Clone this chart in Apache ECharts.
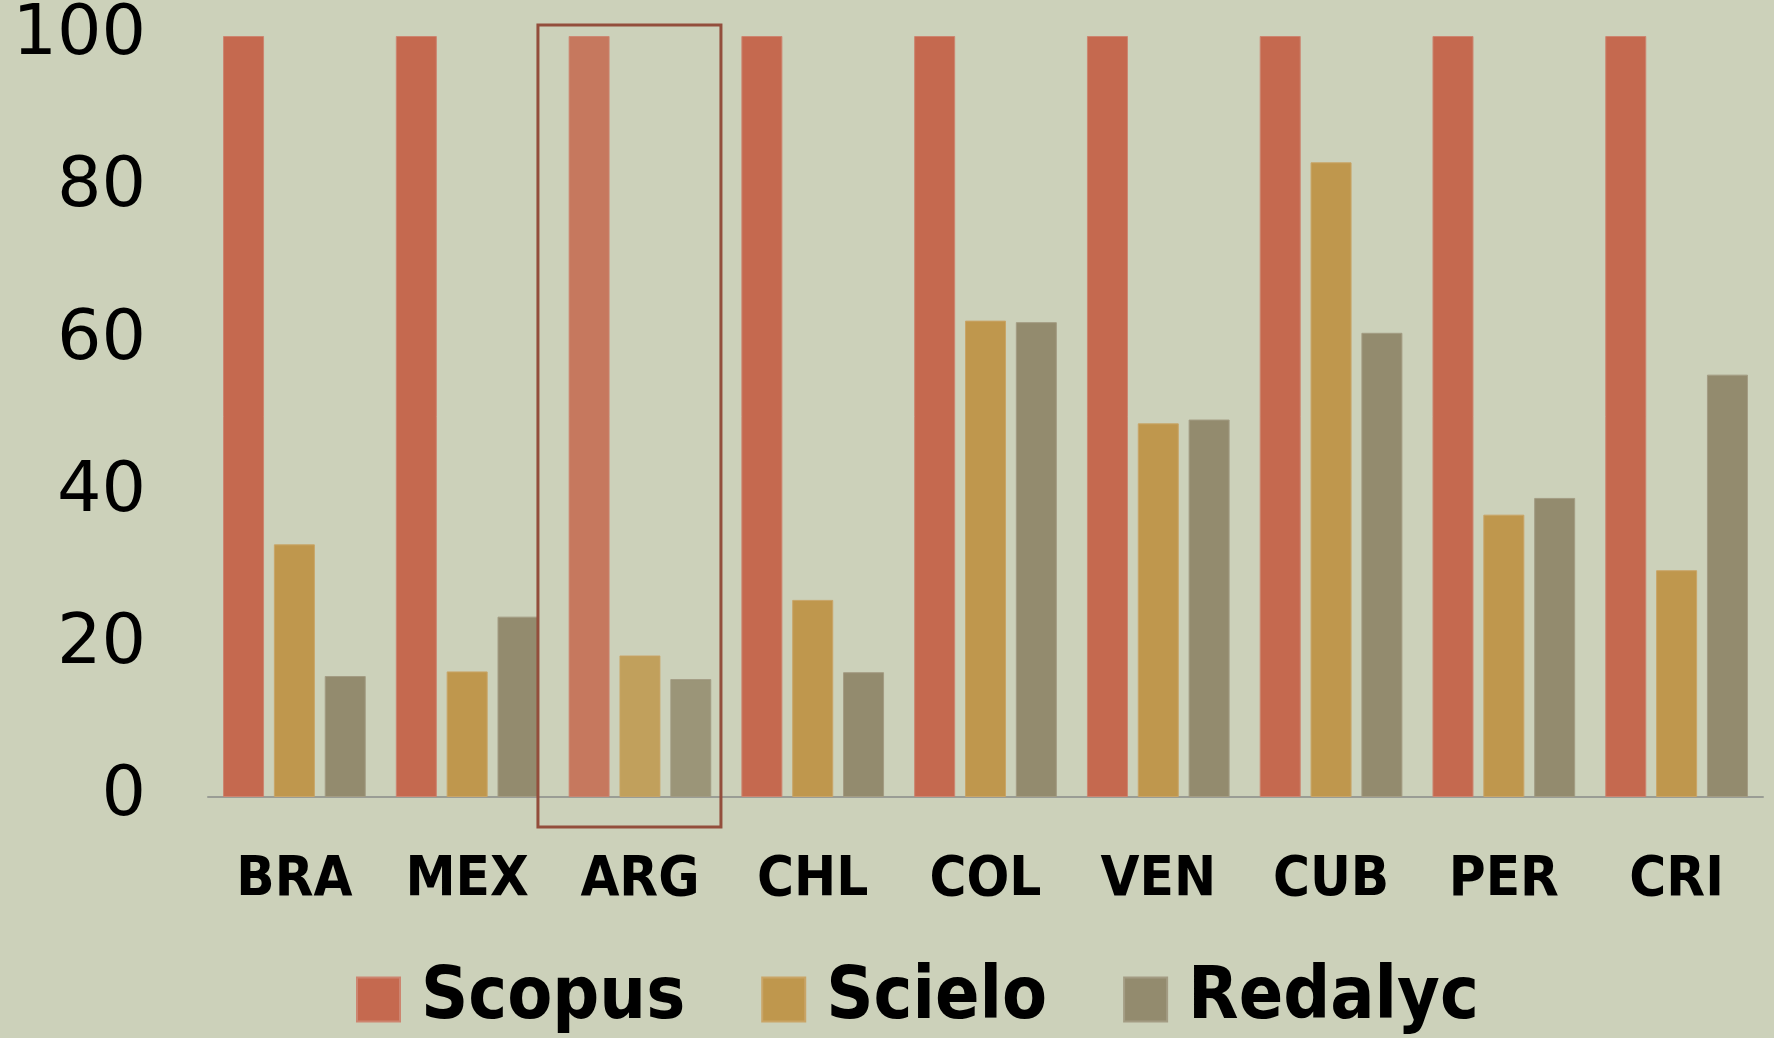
<!DOCTYPE html>
<html>
<head>
<meta charset="utf-8">
<script src="https://cdn.jsdelivr.net/npm/echarts@6/dist/echarts.min.js"></script>
<style>
  html, body { margin: 0; padding: 0; background: #CCD1BA; }
  #chart { width: 1774px; height: 1038px; }
</style>
</head>
<body>
<div id="chart"></div>
<script>
// data
var countries = ['BRA', 'MEX', 'ARG', 'CHL', 'COL', 'VEN', 'CUB', 'PER', 'CRI'];
var scopus = [100, 100, 100, 100, 100, 100, 100, 100, 100];
var scielo = [33.2, 16.5, 18.6, 25.9, 62.6, 49.1, 83.4, 37.1, 29.8];
var redalyc = [15.9, 23.7, 15.5, 16.4, 62.4, 49.6, 61.0, 39.3, 55.5];
var yTicks = [0, 20, 40, 60, 80, 100];
var highlighted = 'ARG';

var narrow = "'DejaVu Sans Condensed', 'Liberation Sans Narrow', sans-serif";

var chart = echarts.init(document.getElementById('chart'));

// highlighted category is drawn a bit washed out
function withHighlight(values) {
  return values.map(function (v, i) {
    if (countries[i] === highlighted) {
      return { value: v, itemStyle: { opacity: 0.86 } };
    }
    return v;
  });
}

function barSeries(name, values, color, border) {
  return {
    name: name,
    type: 'bar',
    data: withHighlight(values),
    barWidth: 41,
    barGap: '24%',
    itemStyle: { color: color, borderColor: border, borderWidth: 1 },
    emphasis: { disabled: true }
  };
}

chart.setOption({
  backgroundColor: '#CCD1BA',
  animation: false,
  grid: { left: 208, right: 11, top: 36, bottom: 241, containLabel: false },
  legend: {
    left: 356,
    top: 963,
    padding: 0,
    icon: 'rect',
    itemWidth: 43,
    itemHeight: 44,
    itemGap: 76,
    textStyle: {
      fontFamily: narrow,
      fontWeight: 'bold',
      fontSize: 73,
      color: '#000',
      padding: [0, 0, 0, 16]
    },
    data: ['Scopus', 'Scielo', 'Redalyc']
  },
  xAxis: {
    type: 'category',
    data: countries,
    axisLine: { lineStyle: { color: '#9A9D95', width: 2 } },
    axisTick: { show: false },
    axisLabel: {
      interval: 0,
      margin: 55,
      fontFamily: narrow,
      fontWeight: 'bold',
      fontSize: 56,
      color: '#000'
    }
  },
  yAxis: {
    type: 'value',
    min: yTicks[0],
    max: yTicks[yTicks.length - 1],
    interval: yTicks[1] - yTicks[0],
    splitLine: { show: false },
    axisLine: { show: false },
    axisTick: { show: false },
    axisLabel: {
      margin: 62,
      fontFamily: 'DejaVu Sans',
      fontSize: 70,
      color: '#000'
    }
  },
  series: [
    barSeries('Scopus', scopus, '#C5694F', '#CD8570'),
    barSeries('Scielo', scielo, '#BF974D', '#C9A567'),
    barSeries('Redalyc', redalyc, '#938B6E', '#A39C83')
  ]
});

// outline box around the highlighted country
var cx = chart.convertToPixel({ xAxisIndex: 0 }, highlighted);
var yTop = chart.convertToPixel({ yAxisIndex: 0 }, 100);
var yBase = chart.convertToPixel({ yAxisIndex: 0 }, 0);
chart.setOption({
  graphic: [{
    type: 'rect',
    shape: { x: cx - 102, y: yTop - 11, width: 183, height: yBase - yTop + 41 },
    style: { fill: 'none', stroke: '#934E3C', lineWidth: 3 },
    z: 10
  }]
});
</script>
</body>
</html>
